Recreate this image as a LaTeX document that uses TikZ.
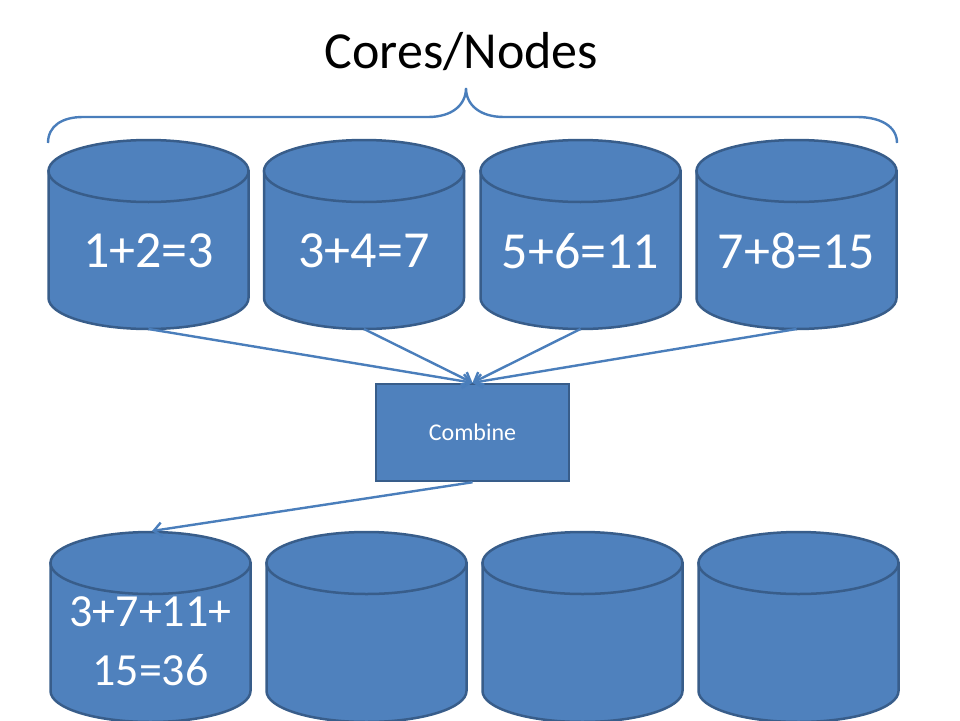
\documentclass[tikz,border=0pt]{standalone}
\usepackage{fontspec}
\setmainfont{Carlito}
\usetikzlibrary{arrows.meta}
\definecolor{cfill}{HTML}{4F81BD}
\definecolor{cborder}{HTML}{385D8A}
\definecolor{cline}{HTML}{4A7EBB}
\begin{document}
\begin{tikzpicture}[x=1pt,y=-1pt,
  cylbody/.style={fill=cfill,draw=cborder,line width=2.5pt},
  lbl/.style={text=white,inner sep=0pt,font=\fontsize{52}{58}\selectfont},
  smalllbl/.style={text=white,inner sep=0pt,align=center,font=\fontsize{46}{59}\selectfont},
  conn/.style={draw=cline,line width=2.4pt,-{Straight Barb[length=8pt,width=14pt]}},
  bracestyle/.style={draw=cline,line width=2.4pt},
  titlestyle/.style={inner sep=0pt,text=black,font=\fontsize{52}{60}\selectfont},
  combbox/.style={fill=cfill,draw=cborder,line width=2.5pt,minimum width=193pt,minimum height=97pt,inner sep=0pt,text=white,font=\fontsize{24}{28}\selectfont}]
\useasboundingbox (0,0) rectangle (960,720);
\foreach \cx/\yt/\yb in {148.5/171/298, 364/171/298, 580.5/171/298, 796.5/171/298, 150.5/563/691, 366.5/563/691, 582.5/563/691, 798.5/563/691} {
  \path[cylbody] (\cx-100,\yt) -- (\cx-100,\yb) arc[start angle=180,end angle=0,x radius=100,y radius=31] -- (\cx+100,\yt) -- cycle;
  \path[cylbody] (\cx,\yt) ellipse[x radius=100,y radius=31];
}
\node[titlestyle,anchor=base] (title) at (461.5,68) {Cores/Nodes};
\draw[bracestyle] (48,143) .. controls (48,126) and (62,117) .. (83,117) -- (428,117) .. controls (452,117) and (466,105) .. (466,88) .. controls (466,105) and (480,117) .. (504,117) -- (857,117) .. controls (880,117) and (897,126) .. (897,143);
\node[lbl] (c1) at (148.5,251) {1+2=3};
\node[lbl] (c2) at (364,251) {3+4=7};
\node[lbl] (c3) at (580.5,251) {5+6=11};
\node[lbl] (c4) at (796.5,251) {7+8=15};
\node[smalllbl] (d1) at (150.5,641.5) {3+7+11+\\15=36};
\coordinate (c1b) at (148.5,329);
\coordinate (c2b) at (364,329);
\coordinate (c3b) at (580.5,329);
\coordinate (c4b) at (796.5,329);
\coordinate (d1t) at (152,531);
\node[combbox] (comb) at (472.5,432.5) {Combine};
\draw[conn] (c1b) -- (comb.north);
\draw[conn] (c2b) -- (comb.north);
\draw[conn] (c3b) -- (comb.north);
\draw[conn] (c4b) -- (comb.north);
\draw[conn] (comb.south) -- (d1t);
\end{tikzpicture}
\end{document}
